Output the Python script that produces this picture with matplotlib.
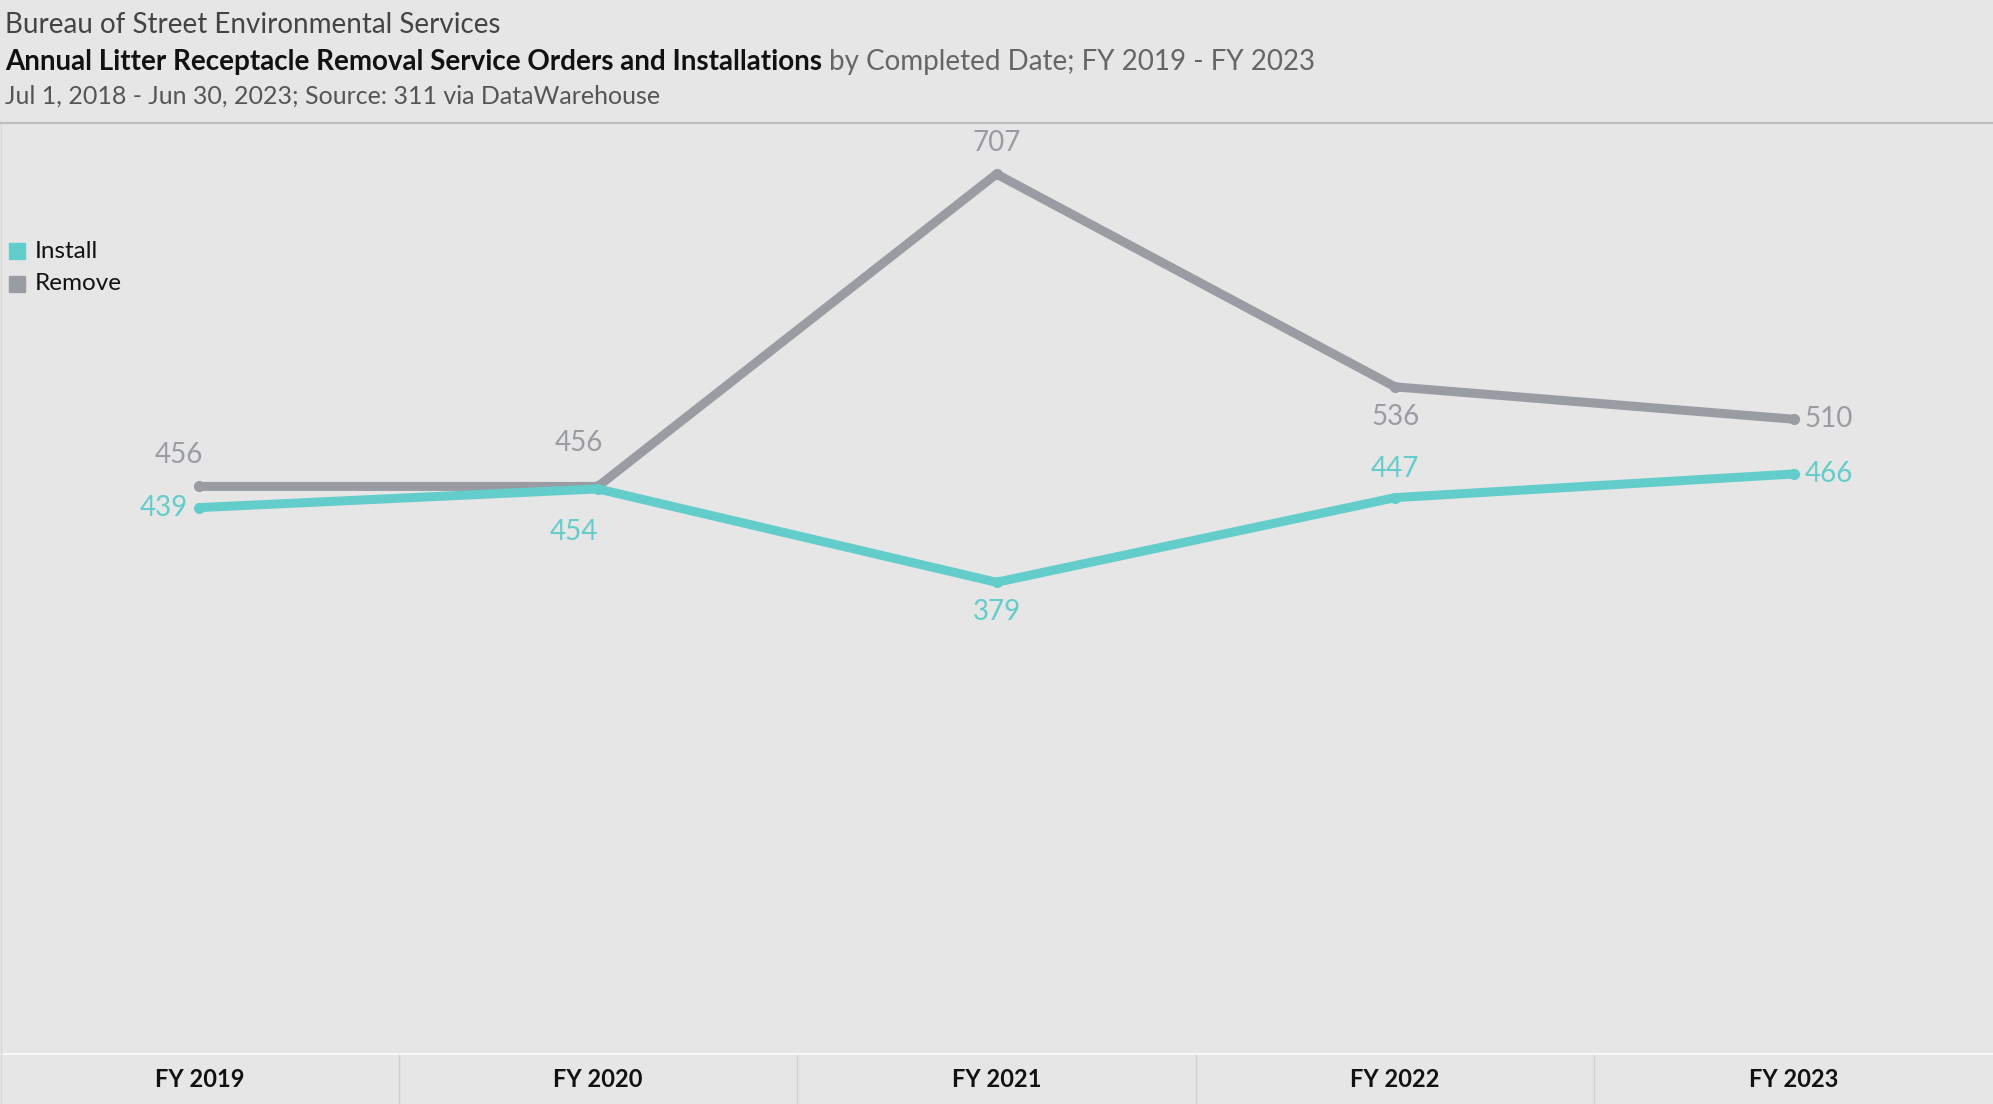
import matplotlib.pyplot as plt
import numpy as np

# data
years = ["FY 2019", "FY 2020", "FY 2021", "FY 2022", "FY 2023"]
install = [439, 454, 379, 447, 466]
remove = [456, 456, 707, 536, 510]

TEAL = "#62CDCB"
GREY = "#999CA2"
BG = "#E6E6E6"
FONT = "Lato"

W, H = 1993, 1104


def main():
    fig = plt.figure(figsize=(W / 100, H / 100), dpi=100, facecolor=BG)
    plt.rcParams["font.family"] = [FONT, "DejaVu Sans"]

    # main plot area
    ax = fig.add_axes([0, (H - 1054) / H, 1, (1054 - 123) / H])
    ax.set_facecolor(BG)
    x = np.arange(len(years))
    ax.plot(x, remove, color=GREY, lw=6.5, marker="o", ms=7, solid_capstyle="round", zorder=2)
    ax.plot(x, install, color=TEAL, lw=6.5, marker="o", ms=7, solid_capstyle="round", zorder=3)
    ax.set_xlim(-0.5, len(years) - 0.5)
    ax.set_ylim(0, 748)
    ax.axis("off")

    # label offsets (points) for each mark
    rem_off = [(-15, 13, "center", "bottom"), (-14, 22, "center", "bottom"), (0, 13, "center", "bottom"),
               (0, -12, "center", "top"), (8, 0, "left", "center")]
    ins_off = [(-8, 0, "right", "center"), (-17, -22, "center", "top"), (0, -12, "center", "top"),
               (0, 11, "center", "bottom"), (8, 0, "left", "center")]
    for i in range(len(years)):
        dx, dy, ha, va = rem_off[i]
        ax.annotate(str(remove[i]), (x[i], remove[i]), xytext=(dx, dy), textcoords="offset points",
                    ha=ha, va=va, color=GREY, fontsize=20)
        dx, dy, ha, va = ins_off[i]
        ax.annotate(str(install[i]), (x[i], install[i]), xytext=(dx, dy), textcoords="offset points",
                    ha=ha, va=va, color=TEAL, fontsize=20)

    # bottom header band
    bx = fig.add_axes([0, 0, 1, (H - 1055) / H])
    bx.set_facecolor(BG)
    bx.set_xlim(-0.5, len(years) - 0.5)
    bx.set_ylim(0, 1)
    for s in bx.spines.values():
        s.set_visible(False)
    bx.set_xticks([])
    bx.set_yticks([])
    for i in range(1, len(years)):
        bx.axvline(i - 0.5, color="#D0D0D0", lw=1)
    for i, yr in enumerate(years):
        bx.text(i, 0.5, yr, ha="center", va="center", fontsize=17, fontweight="bold", color="#111111")
    fig.add_artist(plt.Line2D([0, 1], [(H - 1054) / H] * 2, color="#F8F8F8", lw=1.5))
    fig.add_artist(plt.Line2D([0.0005, 0.0005], [0, (H - 123) / H], color="#D8D8D8", lw=1))

    # header
    fig.add_artist(plt.Line2D([0, 1], [(H - 123) / H] * 2, color="#BDBDBD", lw=1.5))
    fig.text(5 / W, 1 - 25 / H, "Bureau of Street Environmental Services", fontsize=20,
             color="#444444", va="center")
    t = fig.text(5 / W, 1 - 62 / H, "Annual Litter Receptacle Removal Service Orders and Installations",
                 fontsize=20, fontweight="bold", color="#111111", va="center")
    fig.canvas.draw()
    bb = t.get_window_extent()
    fig.text((bb.x1 + 7) / W, 1 - 62 / H, "by Completed Date; FY 2019 - FY 2023", fontsize=20,
             color="#666666", va="center")
    fig.text(5 / W, 1 - 96 / H, "Jul 1, 2018 - Jun 30, 2023; Source: 311 via DataWarehouse", fontsize=18,
             color="#555555", va="center")

    # legend
    for k, (lab, col) in enumerate([("Install", TEAL), ("Remove", GREY)]):
        yy = 1 - (251 + k * 33) / H
        fig.patches.append(plt.Rectangle((9 / W, yy - 8 / H), 16 / W, 16 / H, color=col,
                                         transform=fig.transFigure, figure=fig))
        fig.text(35 / W, yy, lab, fontsize=17.5, color="#111111", va="center")

    fig.savefig("out.png", dpi=100, facecolor=BG)


if __name__ == "__main__":
    main()
